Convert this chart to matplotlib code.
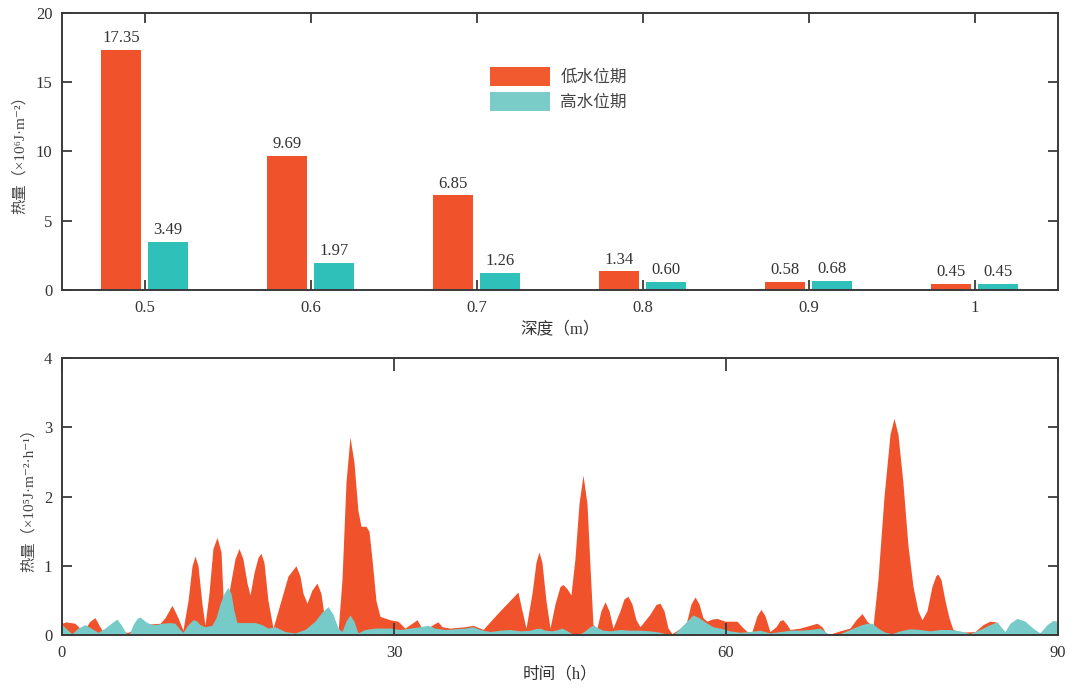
import numpy as np
import matplotlib
matplotlib.use("Agg")
import matplotlib.pyplot as plt
from matplotlib.patches import Patch

# 字体：数字用衬线体，中文回落到 Noto Sans CJK
plt.rcParams['font.family'] = ['Liberation Serif', 'Noto Sans CJK SC', 'DejaVu Sans']
plt.rcParams['font.size'] = 11

# 上图：不同深度的热量
depth_labels = ['0.5', '0.6', '0.7', '0.8', '0.9', '1']
low_water = [17.35, 9.69, 6.85, 1.34, 0.58, 0.45]
high_water = [3.49, 1.97, 1.26, 0.60, 0.68, 0.45]

# 下图：逐时热量
t_low = [0.0, 0.36, 1.17, 1.9, 2.53, 2.98, 3.43, 3.7, 4.34, 5.96, 7.95, 8.86, 9.31, 9.94,
         10.48, 10.93, 11.39, 11.75, 12.02, 12.29, 12.65, 12.92, 13.28, 13.64, 14.01, 14.37,
         14.64, 15.18, 15.63, 15.99, 16.35, 16.72, 16.99, 17.35, 17.71, 17.98, 18.25, 18.61,
         19.07, 19.7, 20.42, 21.14, 21.51, 21.78, 22.14, 22.59, 23.04, 23.4, 23.76, 24.21,
         24.94, 25.3, 25.66, 26.02, 26.38, 26.74, 27.02, 27.47, 27.74, 28.01, 28.37, 28.73,
         29.64, 30.36, 30.99, 31.72, 32.08, 32.44, 33.07, 33.61, 33.98, 34.34, 35.06, 36.41,
         37.14, 37.77, 38.04, 39.58, 40.48, 41.2, 41.57, 41.93, 42.47, 42.83, 43.1, 43.37,
         43.73, 44.1, 44.55, 45.0, 45.27, 45.63, 45.99, 46.35, 46.72, 47.08, 47.44, 47.71,
         47.98, 48.34, 48.7, 49.07, 49.43, 49.79, 50.42, 50.78, 51.14, 51.5, 51.87, 52.23,
         53.13, 53.67, 54.03, 54.4, 54.76, 55.12, 56.38, 56.84, 57.2, 57.56, 57.92, 58.28,
         58.73, 59.19, 59.91, 60.99, 61.44, 61.9, 62.35, 62.8, 63.16, 63.52, 63.97, 64.52,
         64.88, 65.15, 65.51, 65.78, 66.69, 67.59, 68.22, 68.67, 69.13, 70.3, 71.2, 71.75,
         72.29, 72.74, 73.28, 73.73, 74.28, 74.82, 75.18, 75.54, 75.99, 76.44, 76.9, 77.35,
         77.71, 78.16, 78.61, 78.97, 79.15, 79.43, 79.79, 80.15, 80.51, 81.14, 82.5, 83.22,
         83.85, 84.4, 84.76, 90.0]
q_low = [0.17, 0.19, 0.17, 0.05, 0.2, 0.25, 0.12, 0.05, 0.05, 0.04, 0.16, 0.17, 0.25, 0.43,
         0.25, 0.07, 0.5, 1.0, 1.14, 1.0, 0.45, 0.14, 0.6, 1.25, 1.41, 1.2,
         0.25, 0.7, 1.1, 1.25, 1.1, 0.75, 0.58, 0.9, 1.12, 1.18, 1.05, 0.5,
         0.1, 0.45, 0.85, 1.0, 0.85, 0.6, 0.46, 0.65, 0.75, 0.6, 0.2, 0.05,
         0.04, 0.8, 2.2, 2.86, 2.5, 1.8, 1.57, 1.57, 1.5, 1.1, 0.5, 0.27,
         0.22, 0.2, 0.1, 0.18, 0.22, 0.12, 0.1, 0.16, 0.19, 0.12, 0.1, 0.12,
         0.14, 0.1, 0.08, 0.35, 0.5, 0.62, 0.35, 0.1, 0.6, 1.05, 1.2, 1.05,
         0.5, 0.1, 0.45, 0.7, 0.73, 0.67, 0.58, 1.1, 1.9, 2.31, 1.9, 1.0,
         0.15, 0.1, 0.35, 0.48, 0.35, 0.1, 0.35, 0.52, 0.56, 0.45, 0.22, 0.12,
         0.3, 0.44, 0.46, 0.35, 0.1, 0.02, 0.15, 0.45, 0.55, 0.45, 0.25, 0.2,
         0.23, 0.24, 0.2, 0.2, 0.12, 0.05, 0.05, 0.28, 0.37, 0.28, 0.05, 0.12,
         0.21, 0.22, 0.15, 0.08, 0.1, 0.14, 0.17, 0.12, 0.0, 0.06, 0.1, 0.22,
         0.31, 0.2, 0.12, 0.8, 2.0, 2.9, 3.13, 2.9, 2.2, 1.3, 0.7, 0.35,
         0.22, 0.35, 0.7, 0.86, 0.88, 0.8, 0.5, 0.25, 0.08, 0.04, 0.05, 0.15,
         0.2, 0.19, 0.05, 0.03]

t_high = [0.0, 0.45, 0.9, 1.45, 2.08, 2.62, 3.25, 3.89, 4.52, 4.97, 5.33, 5.78, 6.05, 6.42,
          6.78, 7.05, 7.5, 7.95, 8.4, 9.04, 9.76, 10.21, 10.66, 10.93, 11.39, 11.84, 12.11,
          12.47, 12.92, 13.55, 13.92, 14.28, 14.64, 15.0, 15.27, 15.54, 15.81, 16.54, 17.44,
          18.07, 18.61, 19.25, 20.15, 21.05, 21.96, 22.86, 23.49, 24.04, 24.49, 24.94, 25.3,
          25.66, 26.02, 26.38, 26.74, 27.38, 28.28, 29.64, 30.54, 31.44, 32.35, 33.07, 33.7,
          34.61, 35.51, 36.41, 37.14, 37.77, 38.67, 39.58, 40.48, 41.38, 42.29, 42.74, 43.19,
          43.64, 44.28, 44.82, 45.18, 45.54, 46.08, 46.54, 47.17, 47.71, 47.98, 48.34, 48.89,
          49.52, 50.42, 51.32, 52.23, 53.13, 54.03, 54.76, 55.21, 55.84, 56.47, 57.02, 57.56,
          58.19, 58.82, 59.46, 60.36, 61.26, 62.17, 63.07, 63.97, 64.88, 65.78, 66.69, 67.59,
          68.49, 68.94, 69.4, 70.3, 71.2, 72.1, 72.74, 73.19, 73.73, 74.37, 75.0, 75.72,
          76.63, 77.53, 78.43, 79.34, 80.24, 81.14, 82.05, 82.95, 83.85, 84.49, 84.94, 85.21,
          85.66, 86.29, 87.02, 87.74, 88.37, 89.01, 89.55, 90.0]
q_high = [0.15, 0.08, 0.02, 0.1, 0.15, 0.1, 0.04, 0.1, 0.18, 0.23, 0.15, 0.03, 0.0, 0.15,
          0.24, 0.26, 0.2, 0.16, 0.15, 0.17, 0.18, 0.17, 0.08, 0.04, 0.15, 0.22, 0.21,
          0.15, 0.12, 0.14, 0.25, 0.45, 0.6, 0.69, 0.6, 0.35, 0.18, 0.18, 0.18,
          0.15, 0.1, 0.12, 0.05, 0.03, 0.08, 0.2, 0.33, 0.41, 0.3, 0.1, 0.05,
          0.2, 0.29, 0.2, 0.03, 0.08, 0.1, 0.1, 0.08, 0.1, 0.12, 0.14, 0.1,
          0.08, 0.09, 0.1, 0.12, 0.08, 0.05, 0.07, 0.08, 0.06, 0.07, 0.09, 0.1,
          0.07, 0.06, 0.08, 0.1, 0.07, 0.02, 0.0, 0.05, 0.12, 0.14, 0.11, 0.07,
          0.06, 0.08, 0.07, 0.07, 0.06, 0.04, 0.01, 0.0, 0.1, 0.2, 0.29, 0.25,
          0.18, 0.12, 0.1, 0.06, 0.04, 0.05, 0.07, 0.03, 0.05, 0.07, 0.07, 0.08,
          0.1, 0.05, 0.0, 0.02, 0.08, 0.14, 0.17, 0.17, 0.1, 0.04, 0.02, 0.06,
          0.09, 0.08, 0.06, 0.08, 0.08, 0.06, 0.02, 0.08, 0.15, 0.19, 0.1, 0.05,
          0.17, 0.24, 0.2, 0.1, 0.03, 0.15, 0.21, 0.2]

orange = '#F0532B'
teal_bar = '#2EC0B9'
teal_area = '#76CBC8'
txt = '#333333'

fig = plt.figure(figsize=(10.82, 6.88), dpi=100)
ax1 = fig.add_axes([0.0573, 0.5785, 0.9205, 0.4026])
ax2 = fig.add_axes([0.0573, 0.0770, 0.9205, 0.4026])

for ax in (ax1, ax2):
    for s in ax.spines.values():
        s.set_color('#3a3a3a')
        s.set_linewidth(1.4)
    ax.tick_params(direction='in', length=7, width=1.3, color='#3a3a3a',
                   top=True, right=True, labelsize=12, labelcolor=txt, pad=7)
ax2.tick_params(axis='x', length=9)

# ---- 上图 柱状图
x = np.arange(1, len(depth_labels) + 1)
w = 0.24
b1 = ax1.bar(x - 0.145, low_water, w, color=orange)
b2 = ax1.bar(x + 0.14, high_water, w, color=teal_bar)
for rect, v in zip(b1, low_water):
    ax1.text(rect.get_x() + rect.get_width() / 2, v + 0.25, f'{v:.2f}',
             ha='center', va='bottom', fontsize=12, color=txt)
for rect, v in zip(b2, high_water):
    ax1.text(rect.get_x() + rect.get_width() / 2, v + 0.25, f'{v:.2f}',
             ha='center', va='bottom', fontsize=12, color=txt)
ax1.set_xlim(0.5, 6.5)
ax1.set_ylim(0, 20)
ax1.set_xticks(x)
ax1.set_xticklabels(depth_labels)
ax1.set_yticks([0, 5, 10, 15, 20])
ax1.set_xlabel('深度（m）', fontsize=12, color=txt, labelpad=4)
ax1.set_ylabel('热量（×10⁶J·m⁻²）', fontsize=11, color='#444444', labelpad=6)

handles = [Patch(facecolor='#F15A2E', edgecolor='none'),
           Patch(facecolor='#79CCC8', edgecolor='none')]
ax1.legend(handles, ['低水位期', '高水位期'], loc='upper left',
           bbox_to_anchor=(0.415, 0.86), frameon=False, handlelength=3.6,
           handleheight=1.4, handletextpad=0.6, labelspacing=0.35,
           prop={'family': ['Noto Sans CJK SC'], 'size': 12}, labelcolor='#444444')

# ---- 下图 面积图
ax2.fill_between(t_low, q_low, 0, color=orange, linewidth=0)
ax2.fill_between(t_high, q_high, 0, color=teal_area, linewidth=0)
ax2.set_xlim(0, 90)
ax2.set_ylim(0, 4)
ax2.set_xticks([0, 30, 60, 90])
ax2.set_yticks([0, 1, 2, 3, 4])
ax2.set_xlabel('时间（h）', fontsize=12, color=txt, labelpad=4)
ax2.set_ylabel('热量（×10⁵J·m⁻²·h⁻¹）', fontsize=11, color='#444444', labelpad=6)

fig.savefig('out.png', dpi=100)
